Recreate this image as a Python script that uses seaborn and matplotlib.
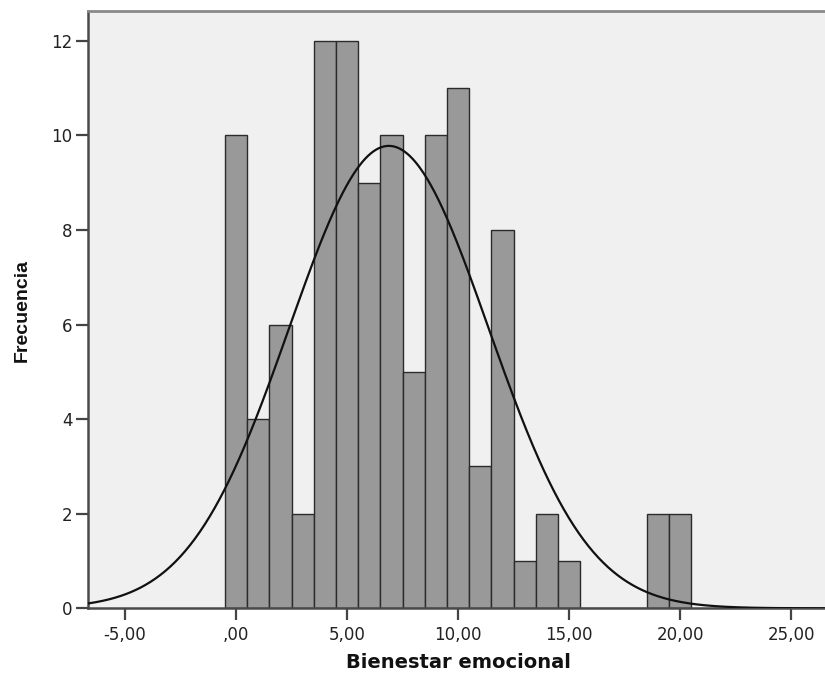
import numpy as np
import pandas as pd
import matplotlib
matplotlib.use("Agg")
import matplotlib.pyplot as plt
import seaborn as sns

# Data (score value -> frequency)
valores = [0, 1, 2, 3, 4, 5, 6, 7, 8, 9, 10, 11, 12, 13, 14, 15, 19, 20]
frecuencias = [10, 4, 6, 2, 12, 12, 9, 10, 5, 10, 11, 3, 8, 1, 2, 1, 2, 2]
xticks = [-5, 0, 5, 10, 15, 20, 25]
xticklabels = ["-5,00", ",00", "5,00", "10,00", "15,00", "20,00", "25,00"]
yticks = [0, 2, 4, 6, 8, 10, 12]

df = pd.DataFrame({"Bienestar emocional": valores, "Frecuencia": frecuencias})

sns.set_style("white")
plt.rcParams["font.family"] = ["DejaVu Sans"]

fig = plt.figure(figsize=(8.25, 6.74), dpi=100)
ax = fig.add_axes([88 / 825, (674 - 608.3) / 674, 1 - 88 / 825 + 0.01, (608.3 - 11) / 674])
ax.set_facecolor("#f0f0f0")

sns.histplot(data=df, x="Bienestar emocional", weights="Frecuencia", discrete=True,
             color="#999999", edgecolor="#2b2b2b", linewidth=1.0, alpha=1.0, ax=ax, zorder=2)

# Normal curve fitted to the data
arr = np.repeat(valores, frecuencias)
n = arr.size
mu = arr.mean()
sd = arr.std(ddof=1)
xs = np.linspace(-6.67, 26.5, 600)
ys = n * 1.0 * np.exp(-0.5 * ((xs - mu) / sd) ** 2) / (sd * np.sqrt(2 * np.pi))
sns.lineplot(x=xs, y=ys, color="#111111", linewidth=1.6, ax=ax, zorder=3)

ax.set_xlim(-6.67, 26.9)
ax.set_ylim(0, 12.63)
ax.set_xticks(xticks)
ax.set_xticklabels(xticklabels)
ax.set_yticks(yticks)
ax.tick_params(axis="both", direction="out", length=8.5, width=1.6, color="#444444",
               labelsize=12, labelcolor="#222222", pad=2.5, bottom=True, left=True)
ax.tick_params(axis="x", pad=4)

for side in ["left", "bottom"]:
    ax.spines[side].set_color("#4a4a4a")
    ax.spines[side].set_linewidth(1.8)
ax.spines["top"].set_color("#8a8a8a")
ax.spines["top"].set_linewidth(2.0)
ax.spines["right"].set_visible(False)

ax.set_xlabel("")
ax.set_ylabel("")
fig.text(458 / 825, 1 - 663 / 674, "Bienestar emocional", ha="center", va="center",
         fontsize=14, fontweight="bold", color="#111111")
fig.text(22 / 825, 1 - 310 / 674, "Frecuencia", ha="center", va="center", rotation=90,
         fontsize=14, fontweight="bold", color="#111111",
         family=["Liberation Sans Narrow", "Liberation Sans", "DejaVu Sans"])

fig.savefig("out.png", dpi=100)
